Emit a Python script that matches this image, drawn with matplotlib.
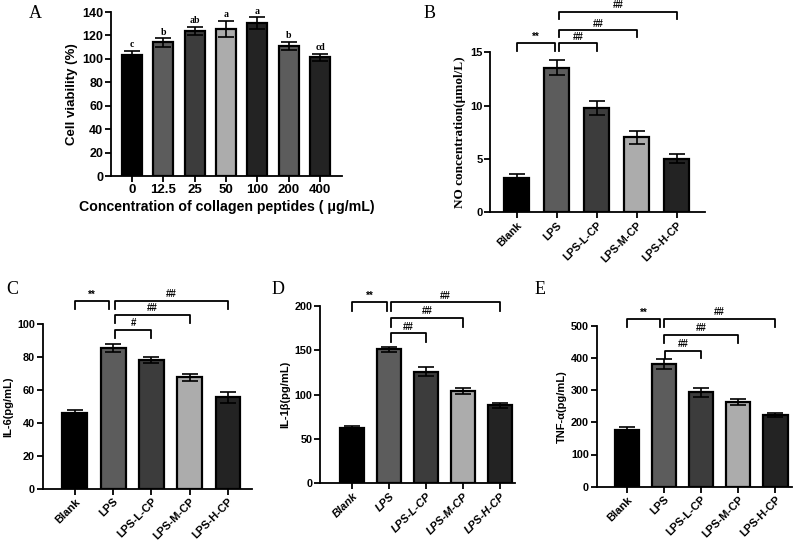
import matplotlib.pyplot as plt
import numpy as np

plt.rcParams['font.family'] = ['Liberation Sans', 'DejaVu Sans']
plt.rcParams['font.weight'] = 'bold'
plt.rcParams['axes.labelweight'] = 'bold'
SERIF = ['Liberation Serif', 'DejaVu Serif']

# --- data ---
conc_labels = ['0', '12.5', '25', '50', '100', '200', '400']
viability = [103, 114, 124, 125.5, 130.5, 111, 101.5]
viability_err = [4, 3.5, 3.5, 7, 5, 3.5, 3]
viability_sig = ['c', 'b', 'ab', 'a', 'a', 'b', 'cd']

groups = ['Blank', 'LPS', 'LPS-L-CP', 'LPS-M-CP', 'LPS-H-CP']
no_conc = [3.2, 13.55, 9.8, 7.05, 5.0]
no_err = [0.35, 0.72, 0.65, 0.6, 0.42]
il6 = [46, 85.5, 78.3, 67.8, 55.7]
il6_err = [2, 2.5, 2, 2, 3.3]
il1b = [62, 151, 126, 104, 88]
il1b_err = [3, 3, 5, 3.5, 2.5]
tnf = [176, 381, 294, 263, 223]
tnf_err = [10, 15, 14, 10, 7]

conc_colors = ['#000000', '#5c5c5c', '#3c3c3c', '#acacac', '#232323', '#5c5c5c', '#232323']
group_colors = ['#000000', '#5c5c5c', '#3c3c3c', '#acacac', '#232323']

W, H = 800, 550
fig = plt.figure(figsize=(8, 5.5), dpi=100, facecolor='white')


def make_ax(left, right, bottom, top):
    return fig.add_axes([left / W, 1 - bottom / H, (right - left) / W, (bottom - top) / H])


def style(ax, fs):
    for s in ['top', 'right']:
        ax.spines[s].set_visible(False)
    for s in ['left', 'bottom']:
        ax.spines[s].set_linewidth(1.3)
    ax.tick_params(width=1.3, length=4, labelsize=fs, pad=1.5)
    for lab in ax.get_yticklabels():
        lab.set_fontweight('bold')


def bars(ax, vals, errs, colors, width):
    x = np.arange(len(vals))
    ax.bar(x, vals, width=width, color=colors, edgecolor='black', linewidth=1.6, zorder=2)
    ax.errorbar(x, vals, yerr=errs, fmt='none', ecolor='black', elinewidth=1.2,
                capsize=width * 9, capthick=1.2, zorder=3)
    return x


def bracket(ax, x1, x2, y, leg, text, fs=7):
    ax.plot([x1, x1, x2, x2], [y - leg, y, y, y - leg], color='black', lw=1.3,
            clip_on=False, zorder=4)
    ax.text((x1 + x2) / 2, y + leg * 0.2, text, ha='center', va='bottom',
            fontsize=fs, fontweight='bold', clip_on=False)


def group_axis(ax, ylabel, fs, yfs, italic=False, yfont=None):
    ax.set_xticks(np.arange(len(groups)))
    ax.set_xticklabels(groups, rotation=45, ha='right', rotation_mode='anchor',
                       fontsize=fs, fontweight='bold',
                       style='italic' if italic else 'normal')
    if yfont:
        ax.set_ylabel(ylabel, fontsize=yfs, family=yfont, fontweight='bold', labelpad=3)
    else:
        ax.set_ylabel(ylabel, fontsize=yfs, fontweight='bold', labelpad=3)


def panel_letter(x, y, s):
    fig.text(x / W, 1 - y / H, s, fontsize=13, family=SERIF, fontweight='normal',
             ha='center', va='center')


# ---------------- A ----------------
axA = make_ax(111, 342, 176, 12)
xa = bars(axA, viability, viability_err, conc_colors, 0.64)
axA.set_xlim(-0.67, 6.7)
axA.set_ylim(0, 140)
axA.set_yticks(range(0, 141, 20))
axA.set_xticks(xa)
axA.set_xticklabels(conc_labels, fontweight='bold')
style(axA, 9)
axA.tick_params(axis='x', labelsize=9.5)
axA.set_ylabel('Cell viability (%)', fontsize=9.5, fontweight='bold', labelpad=3)
axA.set_xlabel('Concentration of collagen peptides ( μg/mL)', fontsize=10.2,
               fontweight='bold', labelpad=3)
for xi, v, e, s in zip(xa, viability, viability_err, viability_sig):
    axA.text(xi, v + e + 1.5, s, ha='center', va='bottom', fontsize=7,
             family=SERIF, fontweight='bold')
panel_letter(35, 13, 'A')

# ---------------- B ----------------
axB = make_ax(490, 705, 212.3, 52.3)
bars(axB, no_conc, no_err, group_colors, 0.63)
axB.set_xlim(-0.67, 4.71)
axB.set_ylim(0, 15)
axB.set_yticks([0, 5, 10, 15])
style(axB, 8)
group_axis(axB, 'NO concentration(μmol/L)', 7.8, 9.5, yfont=SERIF)
bracket(axB, 0, 0.95, 15.84, 0.75, '**')
bracket(axB, 1.06, 2, 15.84, 0.75, '##')
bracket(axB, 1.06, 3, 17.09, 0.7, '##')
bracket(axB, 1.06, 4, 18.8, 0.7, '##')
panel_letter(430, 13, 'B')

# ---------------- C ----------------
axC = make_ax(42.7, 251.7, 489, 324.3)
bars(axC, il6, il6_err, group_colors, 0.65)
axC.set_xlim(-0.84, 4.62)
axC.set_ylim(0, 100)
axC.set_yticks(range(0, 101, 20))
style(axC, 7.8)
group_axis(axC, 'IL-6(pg/mL)', 8, 8)
bracket(axC, 0, 0.9, 114.1, 5, '**')
bracket(axC, 1.06, 4, 114.1, 5, '##')
bracket(axC, 1.06, 3, 105.6, 5, '##')
bracket(axC, 1.06, 2, 96.5, 5, '#')
panel_letter(12, 290, 'C')

# ---------------- D ----------------
axD = make_ax(320, 515, 483.3, 306)
bars(axD, il1b, il1b_err, group_colors, 0.66)
axD.set_xlim(-0.87, 4.41)
axD.set_ylim(0, 200)
axD.set_yticks(range(0, 201, 50))
style(axD, 7.8)
group_axis(axD, 'IL-1β(pg/mL)', 8, 8, italic=True)
bracket(axD, 0, 0.95, 204.1, 10, '**')
bracket(axD, 1.04, 4, 204.1, 10, '##')
bracket(axD, 1.04, 3, 186.8, 10, '##')
bracket(axD, 1.04, 2, 169.2, 10, '##')
panel_letter(278, 290, 'D')

# ---------------- E ----------------
axE = make_ax(596.7, 792, 486.7, 325.7)
bars(axE, tnf, tnf_err, group_colors, 0.66)
axE.set_xlim(-0.81, 4.45)
axE.set_ylim(0, 500)
axE.set_yticks(range(0, 501, 100))
style(axE, 7.8)
group_axis(axE, 'TNF-α(pg/mL)', 8, 8)
bracket(axE, 0, 0.9, 520.8, 24, '**')
bracket(axE, 1.0, 4, 520.8, 24, '##')
bracket(axE, 1.0, 3, 471, 24, '##')
bracket(axE, 1.04, 2, 422.4, 24, '##')
panel_letter(540, 290, 'E')

fig.savefig('out.png', dpi=100, facecolor='white')
